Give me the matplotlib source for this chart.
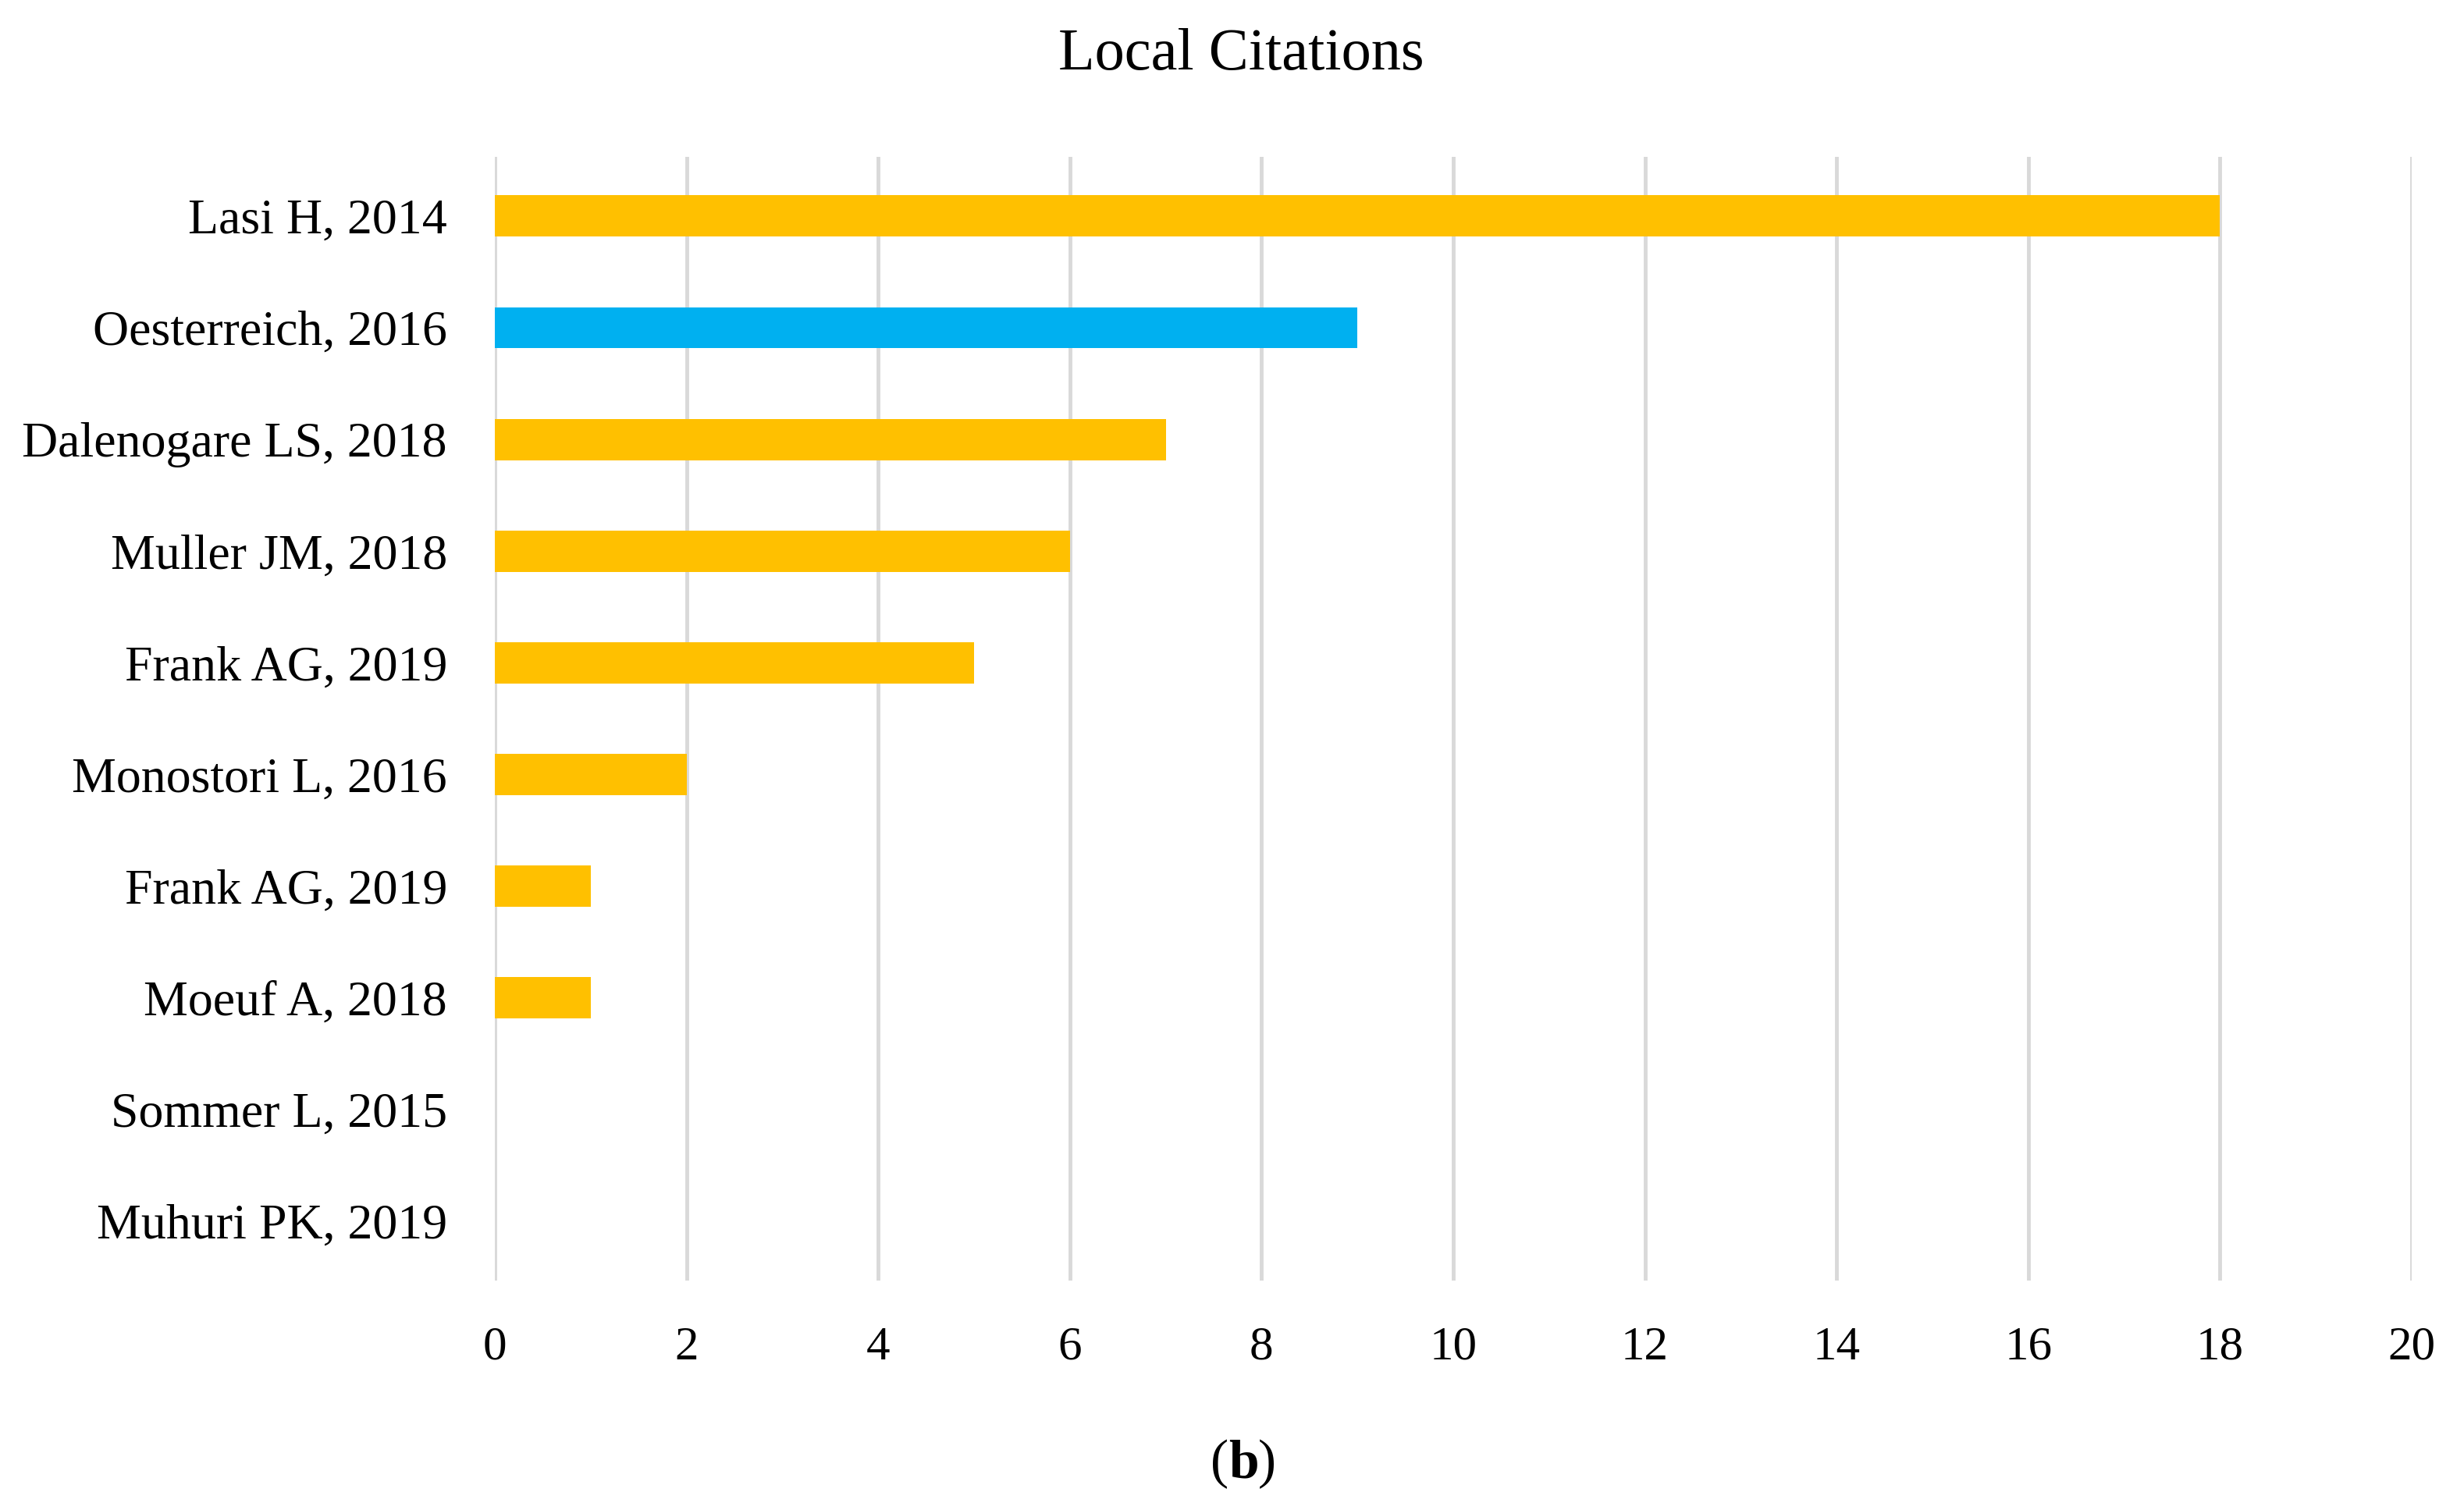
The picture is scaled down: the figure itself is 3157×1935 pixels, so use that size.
import matplotlib
matplotlib.use("Agg")
import matplotlib.pyplot as plt
import numpy as np

# data, top to bottom
papers = ["Lasi H, 2014", "Oesterreich, 2016", "Dalenogare LS, 2018", "Muller JM, 2018",
          "Frank AG, 2019", "Monostori L, 2016", "Frank AG, 2019", "Moeuf A, 2018",
          "Sommer L, 2015", "Muhuri PK, 2019"]
citations = [18, 9, 7, 6, 5, 2, 1, 1, 0, 0]
highlight = "Oesterreich, 2016"

yellow = "#FFC000"
blue = "#00B0F0"

plt.rcParams['font.family'] = ['Liberation Serif', 'DejaVu Serif']

fig = plt.figure(figsize=(31.57, 19.35), dpi=100)
ax = fig.add_axes([634 / 3157, 1 - 1641 / 1935, (3090 - 634) / 3157, (1641 - 201) / 1935])

pos = np.arange(len(papers))
cols = [blue if p == highlight else yellow for p in papers]
ax.barh(pos, citations, height=0.37, color=cols, zorder=3)

ax.set_ylim(len(papers) - 0.47, -0.53)
ax.set_xlim(0, 20)
ax.set_xticks(np.arange(0, 21, 2))
ax.set_yticks(pos)
ax.set_yticklabels(papers)
ax.tick_params(axis='both', length=0)
ax.tick_params(axis='x', pad=42, labelsize=44)
ax.tick_params(axis='y', pad=44, labelsize=46)
ax.grid(axis='x', color='#d9d9d9', linewidth=3.5, zorder=0)
for sp in ax.spines.values():
    sp.set_visible(False)

fig.text(1590 / 3157, 1 - 70 / 1935, "Local Citations", ha='center', va='center', fontsize=55)
fig.text(1574 / 3157, 1 - 1876 / 1935, "(", ha='right', va='center', fontsize=50)
fig.text(1574 / 3157, 1 - 1876 / 1935, "b", ha='left', va='center', fontsize=50, fontweight='bold')
fig.text(1612 / 3157, 1 - 1876 / 1935, ")", ha='left', va='center', fontsize=50)

fig.savefig("out.png", dpi=100)
